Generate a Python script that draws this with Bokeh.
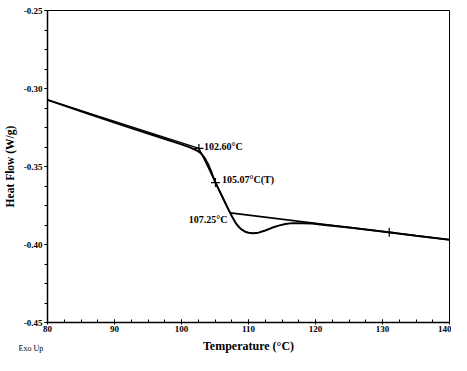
from bokeh.plotting import figure
from bokeh.models import FixedTicker, NumeralTickFormatter, Title
from bokeh.core.properties import value
from bokeh.embed import file_html
from bokeh.resources import INLINE

# DSC curve (Temperature °C, Heat Flow W/g)
temp = [80, 85, 90, 95, 98, 100, 101, 102, 102.6, 103, 103.5, 104, 104.5, 105,
        105.5, 106, 106.5, 107, 107.5, 108, 108.5, 109, 109.5, 110, 110.7, 111.5,
        112.5, 113.5, 114.5, 115.5, 116.5, 118, 119.5, 121, 125, 130, 135, 140]
heat = [-0.3073, -0.3146, -0.3219, -0.3288, -0.3330, -0.3358, -0.3373, -0.3392,
        -0.3405, -0.3420, -0.3448, -0.3488, -0.3540, -0.3597, -0.3642, -0.3686,
        -0.3731, -0.3775, -0.3818, -0.3856, -0.3885, -0.3905, -0.3918, -0.3925,
        -0.3928, -0.3924, -0.3910, -0.3893, -0.3879, -0.3869, -0.3863, -0.3863,
        -0.3866, -0.3873, -0.3891, -0.3917, -0.3944, -0.3970]

# Tangent / baseline construction lines
pre_x = [80, 102.60]
pre_y = [-0.3073, -0.3384]
steep_x = [102.60, 107.25]
steep_y = [-0.3384, -0.3797]
post_x = [107.25, 140]
post_y = [-0.3797, -0.3970]

# Analysis markers
mark_x = [102.60, 105.07, 131.0]
mark_y = [-0.3384, -0.3603, -0.3922]

# Annotations
ann_x = [102.60, 105.07, 107.25]
ann_y = [-0.3384, -0.3603, -0.3797]
ann_text = ["102.60°C", "105.07°C(T)", "107.25°C"]

x_major = [80, 90, 100, 110, 120, 130, 140]
x_minor = [80 + 2.5 * i for i in range(25)]
y_major = [-0.45, -0.40, -0.35, -0.30, -0.25]
y_minor = [-0.45 + 0.0125 * i for i in range(17)]

FONT = "Liberation Serif"

p = figure(width=451, height=355, x_range=(80, 140), y_range=(-0.45, -0.25),
           output_backend="svg", toolbar_location=None,
           min_border_left=47, min_border_right=2, min_border_top=10, min_border_bottom=30)
p.grid.visible = False
p.outline_line_color = "black"
p.outline_line_width = 1
p.background_fill_color = "white"
p.border_fill_color = "white"

p.xaxis.ticker = FixedTicker(ticks=x_major, minor_ticks=x_minor)
p.yaxis.ticker = FixedTicker(ticks=y_major, minor_ticks=y_minor)
p.yaxis.formatter = NumeralTickFormatter(format="0.00")

for ax in (p.xaxis[0], p.yaxis[0]):
    ax.axis_line_color = "black"
    ax.axis_line_width = 1.5
    ax.major_tick_line_color = "black"
    ax.minor_tick_line_color = "black"
    ax.major_label_text_font = FONT
    ax.major_label_text_font_style = "bold"
    ax.major_label_text_font_size = "9px"
    ax.major_label_text_color = "black"
    ax.axis_label_text_font = FONT
    ax.axis_label_text_font_style = "bold"
    ax.axis_label_text_color = "black"

p.xaxis.major_tick_in = 3
p.xaxis.major_tick_out = 2
p.xaxis.minor_tick_in = 3
p.xaxis.minor_tick_out = 0
p.xaxis.major_label_standoff = 1
p.xaxis.axis_label = "Temperature (°C)"
p.xaxis.axis_label_text_font_size = "12px"
p.xaxis.axis_label_standoff = 4

p.yaxis.major_tick_in = 0
p.yaxis.major_tick_out = 3
p.yaxis.minor_tick_in = 0
p.yaxis.minor_tick_out = 3
p.yaxis.major_label_standoff = 2
p.yaxis.axis_label = "Heat Flow (W/g)"
p.yaxis.axis_label_text_font_size = "11.5px"
p.yaxis.axis_label_standoff = 5

p.line(pre_x, pre_y, line_color="black", line_width=1.3)
p.line(steep_x, steep_y, line_color="black", line_width=1.3)
p.line(post_x, post_y, line_color="black", line_width=1.6)
p.line(temp, heat, line_color="black", line_width=2)
p.scatter(mark_x, mark_y, marker="cross", size=9, line_color="black", line_width=1.2)

offsets = [(5, -2), (6.5, -3.5), (-2.5, 6.5)]
aligns = ["left", "left", "right"]
for (x, y, t, (dx, dy), al) in zip(ann_x, ann_y, ann_text, offsets, aligns):
    p.text(x=[x], y=[y], text=[t], x_offset=dx, y_offset=dy,
           text_font=value(FONT), text_font_style="bold", text_font_size="10px",
           text_align=al, text_baseline="middle", text_color="black")

p.add_layout(Title(text="Exo Up", align="left", vertical_align="top", offset=-29,
                   standoff=-24, text_font=FONT, text_font_size="8px",
                   text_font_style="normal", text_color="black"), "below")

open("out.html", "w").write(file_html(p, INLINE))
